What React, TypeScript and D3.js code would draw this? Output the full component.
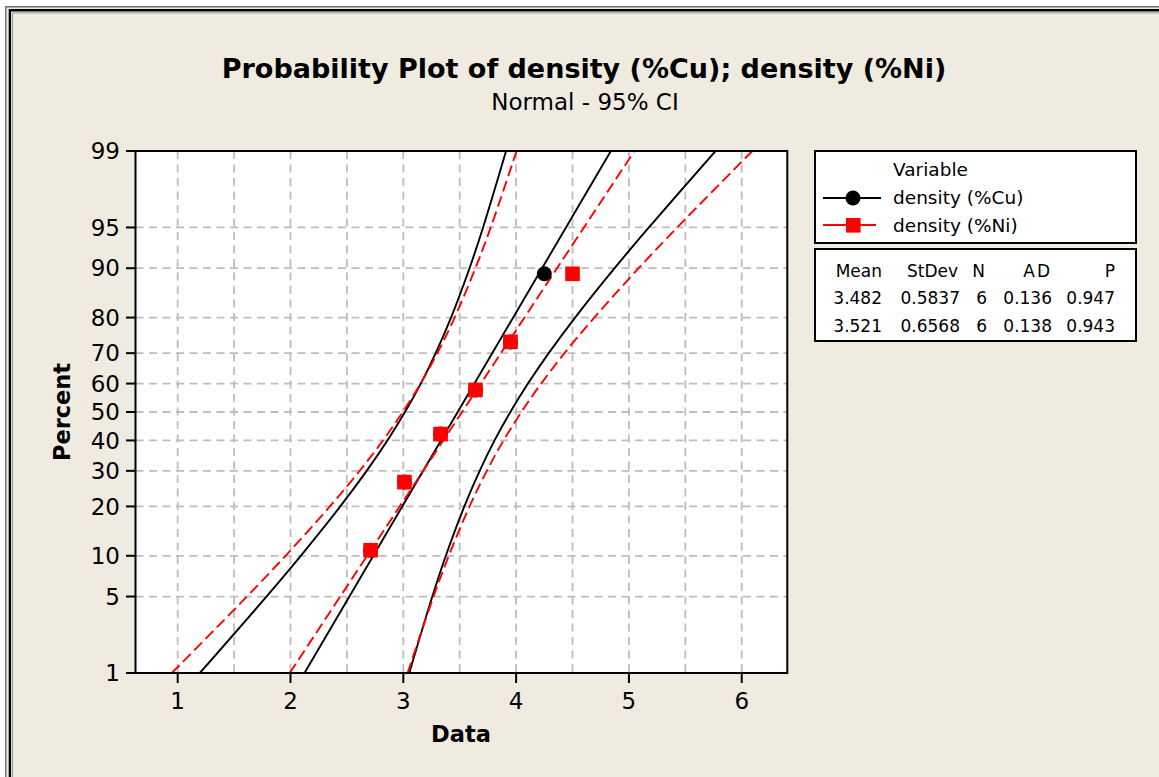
import React from 'react';
import * as d3 from 'd3';

// percent levels on the probability axis
const percentTicks = [1, 5, 10, 20, 30, 40, 50, 60, 70, 80, 90, 95, 99];
const xTicks = [1, 2, 3, 4, 5, 6];
const xGrid = [1, 1.5, 2, 2.5, 3, 3.5, 4, 4.5, 5, 5.5, 6];

// observations (plotting positions in percent)
const pointPercent = [10.9, 26.6, 42.2, 57.8, 73.4, 89.1];
const cuValues = [2.71, 3.01, 3.33, 3.64, 3.95, 4.25];
const niValues = [2.71, 3.01, 3.33, 3.64, 3.95, 4.5];

// fitted lines, read at 1% and 99%
const fitPercent = [1, 99];
const cuFit = [2.124, 4.84];
const niFit = [1.993, 5.049];

// 95% CI bands read at each percent tick
const cuLower = [1.196, 1.787, 2.091, 2.441, 2.675, 2.859, 3.015, 3.155, 3.287, 3.423, 3.587, 3.707, 3.911];
const cuUpper = [3.053, 3.257, 3.377, 3.541, 3.677, 3.809, 3.949, 4.105, 4.289, 4.523, 4.873, 5.177, 5.768];
const niLower = [0.948, 1.614, 1.956, 2.349, 2.613, 2.82, 2.995, 3.153, 3.302, 3.455, 3.639, 3.775, 4.004];
const niUpper = [3.038, 3.268, 3.403, 3.587, 3.74, 3.889, 4.047, 4.222, 4.429, 4.693, 5.086, 5.428, 6.094];

// summary table
const statHeaders = ['Mean', 'StDev', 'N', 'AD', 'P'];
const cuStats = ['3.482', '0.5837', '6', '0.136', '0.947'];
const niStats = ['3.521', '0.6568', '6', '0.138', '0.943'];
const seriesNames = ['density (%Cu)', 'density (%Ni)'];

// inverse normal cdf (Acklam) – used for the probability axis
function probit(p: number): number {
  const a = [-39.69683028665376, 220.9460984245205, -275.9285104469687, 138.357751867269, -30.66479806614716, 2.506628277459239];
  const b = [-54.47609879822406, 161.5858368580409, -155.6989798598866, 66.80131188771972, -13.28068155288572];
  const c = [-0.007784894002430293, -0.3223964580411365, -2.400758277161838, -2.549732539343734, 4.374664141464968, 2.938163982698783];
  const d = [0.007784695709041462, 0.3224671290700398, 2.445134137142996, 3.754408661907416];
  const pl = 0.02425;
  if (p < pl) {
    const q = Math.sqrt(-2 * Math.log(p));
    return (((((c[0] * q + c[1]) * q + c[2]) * q + c[3]) * q + c[4]) * q + c[5]) / ((((d[0] * q + d[1]) * q + d[2]) * q + d[3]) * q + 1);
  }
  if (p > 1 - pl) {
    const q = Math.sqrt(-2 * Math.log(1 - p));
    return -(((((c[0] * q + c[1]) * q + c[2]) * q + c[3]) * q + c[4]) * q + c[5]) / ((((d[0] * q + d[1]) * q + d[2]) * q + d[3]) * q + 1);
  }
  const q = p - 0.5;
  const r = q * q;
  return (((((a[0] * r + a[1]) * r + a[2]) * r + a[3]) * r + a[4]) * r + a[5]) * q / (((((b[0] * r + b[1]) * r + b[2]) * r + b[3]) * r + b[4]) * r + 1);
}

const W = 1159;
const H = 777;
const plot = { left: 135.5, right: 787.3, top: 151, bottom: 673 };
const font = "'DejaVu Sans', Verdana, sans-serif";
const beige = '#EFEBE1';

export default function App() {
  const x = d3.scaleLinear().domain([0.626, 6.404]).range([plot.left, plot.right]);
  const zScale = d3.scaleLinear().domain([probit(0.01), probit(0.99)]).range([plot.bottom, plot.top]);
  const y = (pct: number) => zScale(probit(pct / 100));

  const curve = d3.line<[number, number]>()
    .x(d => x(d[0]))
    .y(d => y(d[1]))
    .curve(d3.curveCatmullRom.alpha(0.5));
  const straight = d3.line<[number, number]>().x(d => x(d[0])).y(d => y(d[1]));

  const band = (vals: number[]) => curve(vals.map((v, i) => [v, percentTicks[i]] as [number, number])) || '';
  const fit = (vals: number[]) => straight(vals.map((v, i) => [v, fitPercent[i]] as [number, number])) || '';

  const gridStyle = { stroke: '#BDBDBD', strokeWidth: 1.8, strokeDasharray: '8,5.5' };
  const tableRight = [882, 960, 987, 1052, 1115];

  return (
    <svg width={W} height={H} style={{ position: 'absolute', left: 0, top: 0 }} fontFamily={font}>
      <defs>
        <clipPath id="plotClip">
          <rect x={plot.left} y={plot.top} width={plot.right - plot.left} height={plot.bottom - plot.top} />
        </clipPath>
      </defs>
      <rect x={0} y={0} width={W} height={H} fill="#fff" />
      <rect x={6} y={7} width={W} height={H} fill={beige} />
      {/* double border top/left */}
      <path d={`M5.8,${H} V6.8 H${W}`} fill="none" stroke="#6e6e6e" strokeWidth={1.4} />
      <path d={`M9.9,${H} V10.2 H${W}`} fill="none" stroke="#000" strokeWidth={2.4} />
      <path d={`M12.6,${H} V12.9 H${W}`} fill="none" stroke="#9a9a9a" strokeWidth={1} />

      <text x={584} y={78} textAnchor="middle" fontSize={27} fontWeight="bold">
        Probability Plot of density (%Cu); density (%Ni)
      </text>
      <text x={585} y={110} textAnchor="middle" fontSize={23}>Normal - 95% CI</text>

      {/* plot area */}
      <rect x={plot.left} y={plot.top} width={plot.right - plot.left} height={plot.bottom - plot.top} fill="#fff" />
      {xGrid.map(v => (
        <line key={'gx' + v} x1={x(v)} x2={x(v)} y1={plot.top} y2={plot.bottom} {...gridStyle} />
      ))}
      {percentTicks.map(p => (
        <line key={'gy' + p} x1={plot.left} x2={plot.right} y1={y(p)} y2={y(p)} {...gridStyle} />
      ))}

      <g clipPath="url(#plotClip)" fill="none">
        <path d={band(cuLower)} stroke="#000" strokeWidth={1.9} />
        <path d={band(cuUpper)} stroke="#000" strokeWidth={1.9} />
        <path d={fit(cuFit)} stroke="#000" strokeWidth={1.9} />
        <path d={band(niLower)} stroke="#FF0000" strokeWidth={1.9} strokeDasharray="11,5" />
        <path d={band(niUpper)} stroke="#FF0000" strokeWidth={1.9} strokeDasharray="11,5" />
        <path d={fit(niFit)} stroke="#FF0000" strokeWidth={1.9} strokeDasharray="11,5" />
      </g>

      {cuValues.map((v, i) => (
        <circle key={'cu' + i} cx={x(v)} cy={y(pointPercent[i])} r={7.5} fill="#000" />
      ))}
      {niValues.map((v, i) => (
        <rect key={'ni' + i} x={x(v) - 7.3} y={y(pointPercent[i]) - 7.3} width={14.6} height={14.6} fill="#FF0000" />
      ))}

      <rect x={plot.left} y={plot.top} width={plot.right - plot.left} height={plot.bottom - plot.top}
        fill="none" stroke="#000" strokeWidth={2} />

      {/* y axis */}
      {percentTicks.map(p => (
        <g key={'ty' + p}>
          <line x1={plot.left - 9.5} x2={plot.left} y1={y(p)} y2={y(p)} stroke="#000" strokeWidth={2} />
          <text x={120} y={y(p)} dy="0.36em" textAnchor="end" fontSize={23}>{p}</text>
        </g>
      ))}
      {/* x axis */}
      {xTicks.map(v => (
        <g key={'tx' + v}>
          <line x1={x(v)} x2={x(v)} y1={plot.bottom} y2={plot.bottom + 10} stroke="#000" strokeWidth={2} />
          <text x={x(v)} y={709} textAnchor="middle" fontSize={23}>{v}</text>
        </g>
      ))}
      <text x={461} y={742} textAnchor="middle" fontSize={22.5} fontWeight="bold">Data</text>
      <text transform="translate(70,412) rotate(-90)" textAnchor="middle" fontSize={22.5} fontWeight="bold">Percent</text>

      {/* legend */}
      <rect x={815} y={151} width={321} height={92} fill="#fff" stroke="#000" strokeWidth={2} />
      <text x={893} y={176} fontSize={18.5}>Variable</text>
      <line x1={823} x2={881} y1={198} y2={198} stroke="#000" strokeWidth={1.8} />
      <circle cx={853} cy={198} r={7.5} fill="#000" />
      <text x={893} y={204} fontSize={18.5}>{seriesNames[0]}</text>
      <line x1={823} x2={876} y1={225} y2={225} stroke="#FF0000" strokeWidth={1.8} />
      <rect x={846} y={218} width={14.6} height={14.6} fill="#FF0000" />
      <text x={893} y={232} fontSize={18.5}>{seriesNames[1]}</text>

      <rect x={815} y={249} width={321} height={92} fill="#fff" stroke="#000" strokeWidth={2} />
      {statHeaders.map((h, i) => (
        <text key={'h' + h} x={tableRight[i] - (i === 1 || i === 2 ? 2 : 0)} y={277} textAnchor="end" fontSize={17}
          letterSpacing={h === 'AD' ? 2 : 0}>{h}</text>
      ))}
      {cuStats.map((s, i) => (
        <text key={'c' + i} x={tableRight[i]} y={304} textAnchor="end" fontSize={17}>{s}</text>
      ))}
      {niStats.map((s, i) => (
        <text key={'n' + i} x={tableRight[i]} y={332} textAnchor="end" fontSize={17}>{s}</text>
      ))}
    </svg>
  );
}
